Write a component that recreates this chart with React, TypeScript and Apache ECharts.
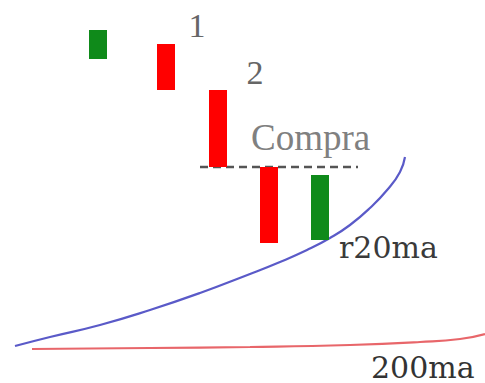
import React, { useEffect, useRef } from "react";
import * as echarts from "echarts";

// Candles: [x position, open, close] in abstract price units
const candleX = [98, 166, 218, 269, 320];
const candleOpen = [324, 339, 293, 216, 143];
const candleClose = [353, 293, 216, 140, 208];

// 20-period moving average (blue)
const ma20X = [15, 50, 100, 150, 200, 250, 280, 307, 330, 350, 370, 388, 400, 405];
const ma20Y = [37, 46, 58, 73, 90, 109, 121, 133, 145, 158, 175, 194, 211, 226];

// 200-period moving average (red)
const ma200X = [32, 150, 250, 350, 420, 460, 485];
const ma200Y = [34, 35, 36, 38, 41, 44, 49];

// Buy level (dashed)
const buyLevelX = [200, 358];
const buyLevel = 216;

const GREEN = "#0f8a1a";
const RED = "#ff0000";

export default function App() {
  const ref = useRef<HTMLDivElement>(null);
  useEffect(() => {
    if (!ref.current) return;
    const chart = echarts.init(ref.current, undefined, { renderer: "svg" });
    const candles = candleX.map((x, i) => [x, candleOpen[i], candleClose[i]]);
    const txt = (x: number, y: number, text: string, family: string, size: number, fill: string, align = "left") => ({
      type: "text",
      style: { x, y, text, fontFamily: family, fontSize: size, fill, textAlign: align, textVerticalAlign: "middle" },
    });
    chart.setOption({
      animation: false,
      grid: { left: 0, right: 0, top: 0, bottom: 0 },
      xAxis: { type: "value", min: 0, max: 485, show: false },
      yAxis: { type: "value", min: 0, max: 383, show: false },
      series: [
        {
          type: "line",
          data: ma200X.map((x, i) => [x, ma200Y[i]]),
          smooth: true,
          showSymbol: false,
          lineStyle: { color: "#e8666a", width: 2.2 },
        },
        {
          type: "line",
          data: ma20X.map((x, i) => [x, ma20Y[i]]),
          smooth: true,
          showSymbol: false,
          lineStyle: { color: "#5a5ac8", width: 2.2 },
        },
        {
          type: "line",
          data: buyLevelX.map((x) => [x, buyLevel]),
          showSymbol: false,
          lineStyle: { color: "#555555", width: 2.5, type: [8, 5] },
        },
        {
          type: "custom",
          data: candles,
          renderItem: (params: any, api: any) => {
            const x = api.value(0);
            const o = api.value(1);
            const c = api.value(2);
            const top = api.coord([x, Math.max(o, c)]);
            const bot = api.coord([x, Math.min(o, c)]);
            const w = 18;
            return {
              type: "rect",
              shape: { x: top[0] - w / 2, y: top[1], width: w, height: bot[1] - top[1] },
              style: { fill: c >= o ? GREEN : RED },
            };
          },
          z: 5,
        },
      ],
      graphic: [
        txt(197, 25, "1", "Liberation Serif", 34, "#666", "center"),
        txt(255, 72, "2", "Liberation Serif", 34, "#666", "center"),
        txt(251, 137, "Compra", "Liberation Serif", 37, "#808080"),
        txt(339, 247, "r20ma", "DejaVu Serif", 30, "#3a3a3a"),
        txt(371, 367, "200ma", "DejaVu Serif", 30, "#333"),
      ],
    });
    return () => chart.dispose();
  }, []);
  return (
    <div
      ref={ref}
      style={{ position: "fixed", left: 0, top: 0, width: 485, height: 383, background: "#fff" }}
    />
  );
}
